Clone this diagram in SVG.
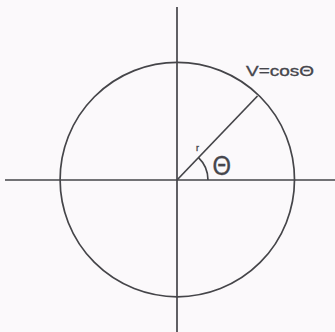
<svg xmlns="http://www.w3.org/2000/svg" width="335" height="332" viewBox="0 0 335 332">
<style>
.ln{fill:none;stroke:#454549;stroke-width:1.7}
.t{font-family:"Liberation Sans",Arial,sans-serif;fill:#46464c;stroke:#46464c;stroke-width:0.35}
</style>
<rect width="335" height="332" fill="#fbf9fb"/>
<g id="axes">
<line class="ln" x1="177" y1="7" x2="177" y2="332"/>
<line class="ln" x1="5" y1="180" x2="335" y2="180"/>
</g>
<g id="circle">
<circle class="ln" cx="177.3" cy="179.6" r="117.2"/>
</g>
<g id="radius">
<line class="ln" x1="177" y1="180" x2="257.5" y2="96"/>
<path class="ln" d="M198.5 157.6 A31 31 0 0 1 208 180"/>
</g>
<g id="labels">
<text class="t" x="246" y="75.5" font-size="15.5" textLength="68" lengthAdjust="spacingAndGlyphs">V=cosΘ</text>
<text class="t" x="212.5" y="175" font-size="27" textLength="18.5" lengthAdjust="spacingAndGlyphs">Θ</text>
<text class="t" x="196" y="151" font-size="9">r</text>
</g>
</svg>
